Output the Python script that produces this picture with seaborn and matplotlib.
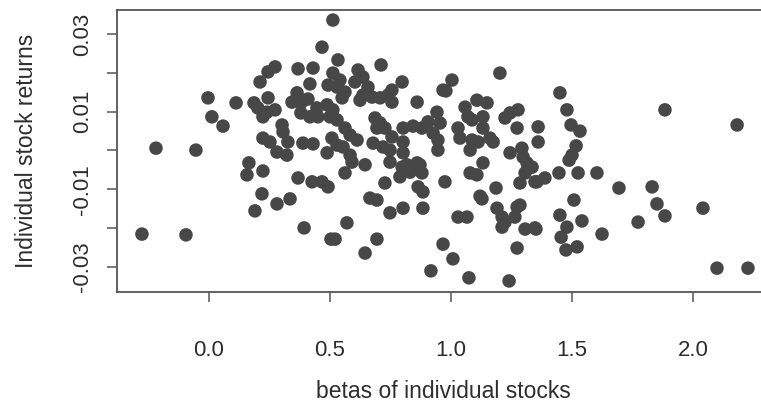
import matplotlib
matplotlib.use('Agg')
import matplotlib.pyplot as plt
import seaborn as sns
import pandas as pd

# betas of individual stocks (x) and individual stock returns (y)
betas = [
    -0.277, -0.219, -0.095, -0.054, -0.004, 0.012, 0.058, 0.112, 0.157, 0.165,
    0.190, 0.219, 0.223, 0.281, 0.335, 0.368, 0.393, 0.426, 0.467, 0.492,
    0.504, 0.211, 0.244, 0.273, 0.368, 0.430, 0.467, 0.512, 0.186, 0.202,
    0.223, 0.244, 0.273, 0.240, 0.302, 0.306, 0.223, 0.252, 0.326, 0.388,
    0.430, 0.281, 0.322, 0.488, 0.364, 0.343, 0.380, 0.409, 0.417, 0.446,
    0.380, 0.417, 0.450, 0.533, 0.711, 0.512, 0.492, 0.541, 0.562, 0.529,
    0.550, 0.616, 0.636, 0.603, 0.657, 0.636, 0.674, 0.624, 0.707, 0.740,
    0.756, 0.798, 0.756, 0.860, 0.488, 0.512, 0.500, 0.529, 0.562, 0.583,
    0.612, 0.508, 0.529, 0.686, 0.707, 0.694, 0.727, 0.756, 0.678, 0.802,
    0.843, 0.880, 0.905, 0.942, 0.926, 0.946, 0.967, 0.802, 0.719, 0.554,
    1.004, 0.979, 1.202, 1.107, 1.149, 1.058, 1.070, 1.087, 1.132, 1.132,
    1.029, 1.037, 1.087, 1.112, 1.161, 1.174, 1.079, 1.244, 1.277, 1.223,
    1.273, 1.360, 1.360, 1.450, 1.479, 0.955, 1.244, 1.293, 1.298, 1.314,
    1.132, 0.583, 0.591, 0.645, 0.562, 0.748, 0.802, 0.748, 0.946, 0.798,
    0.818, 0.860, 0.872, 0.789, 0.831, 0.880, 0.727, 0.864, 0.884, 0.975,
    0.665, 0.694, 0.748, 0.802, 0.884, 0.570, 0.521, 0.694, 0.645, 1.029,
    1.066, 0.967, 1.008, 0.917, 1.074, 1.240, 1.079, 1.107, 1.318, 1.306,
    1.285, 1.347, 1.186, 1.120, 1.128, 1.190, 1.211, 1.223, 1.211, 1.273,
    1.285, 1.264, 1.306, 1.347, 1.273, 1.496, 1.533, 1.517, 1.500, 1.488,
    1.335, 1.355, 1.388, 1.525, 1.603, 1.694, 1.831, 1.851, 1.884, 2.041,
    1.508, 1.450, 1.479, 1.455, 1.541, 1.475, 1.521, 1.624, 1.773, 1.351,
    2.099, 2.227, 1.884, 2.182, 1.446,
]
returns = [
    -0.0216, 0.0006, -0.0218, 0.0001, 0.0136, 0.0087, 0.0063, 0.0123, -0.0063, -0.0032,
    -0.0156, -0.0112, -0.0053, -0.0138, -0.0125, -0.0071, -0.0200, -0.0081, -0.0081, -0.0094,
    -0.0229, 0.0177, 0.0203, 0.0216, 0.0211, 0.0213, 0.0267, 0.0337, 0.0123, 0.0110,
    0.0087, 0.0136, 0.0105, 0.0099, 0.0066, 0.0048, 0.0032, 0.0022, 0.0022, 0.0019,
    0.0017, -0.0004, -0.0012, -0.0006, 0.0149, 0.0125, 0.0123, 0.0133, 0.0172, 0.0110,
    0.0097, 0.0087, 0.0087, 0.0234, 0.0221, 0.0200, 0.0169, 0.0182, 0.0151, 0.0164,
    0.0136, 0.0208, 0.0190, 0.0177, 0.0164, 0.0143, 0.0138, 0.0130, 0.0136, 0.0143,
    0.0156, 0.0177, 0.0125, 0.0125, 0.0118, 0.0105, 0.0087, 0.0079, 0.0058, 0.0040,
    0.0027, 0.0032, 0.0014, 0.0084, 0.0071, 0.0058, 0.0058, 0.0035, 0.0019, 0.0058,
    0.0063, 0.0058, 0.0074, 0.0099, 0.0045, 0.0027, 0.0156, 0.0022, 0.0009, 0.0009,
    0.0182, 0.0154, 0.0200, 0.0130, 0.0123, 0.0112, 0.0087, 0.0079, 0.0087, 0.0058,
    0.0058, 0.0032, 0.0027, 0.0022, 0.0032, 0.0022, 0.0001, 0.0097, 0.0105, 0.0084,
    0.0058, 0.0061, 0.0022, 0.0149, 0.0105, 0.0071, -0.0006, 0.0006, -0.0017, -0.0032,
    -0.0032, -0.0012, -0.0030, -0.0037, -0.0058, 0.0001, -0.0006, -0.0030, 0.0001, -0.0043,
    -0.0037, -0.0032, -0.0037, -0.0068, -0.0056, -0.0058, -0.0084, -0.0094, -0.0107, -0.0081,
    -0.0123, -0.0128, -0.0161, -0.0149, -0.0149, -0.0187, -0.0229, -0.0229, -0.0265, -0.0172,
    -0.0172, -0.0242, -0.0280, -0.0311, -0.0329, -0.0337, -0.0058, -0.0063, -0.0043, -0.0058,
    -0.0084, -0.0081, -0.0097, -0.0118, -0.0125, -0.0149, -0.0172, -0.0185, -0.0198, -0.0146,
    -0.0141, -0.0172, -0.0203, -0.0200, -0.0252, 0.0066, 0.0050, 0.0012, -0.0012, -0.0025,
    -0.0043, -0.0081, -0.0071, -0.0058, -0.0058, -0.0097, -0.0094, -0.0138, -0.0169, -0.0149,
    -0.0128, -0.0167, -0.0198, -0.0224, -0.0182, -0.0257, -0.0249, -0.0216, -0.0185, -0.0203,
    -0.0304, -0.0304, 0.0105, 0.0066, -0.0058,
]

x_ticks = [0.0, 0.5, 1.0, 1.5, 2.0]
x_tick_labels = ['0.0', '0.5', '1.0', '1.5', '2.0']
y_ticks = [-0.03, -0.02, -0.01, 0.0, 0.01, 0.02, 0.03]
y_tick_labels = ['-0.03', '', '-0.01', '', '0.01', '', '0.03']

sns.set_style('white')
plt.rcParams['font.family'] = ['Liberation Sans', 'DejaVu Sans']

df = pd.DataFrame({'beta': betas, 'ret': returns})

fig = plt.figure(figsize=(7.61, 4.07), dpi=100)
# right edge of the box runs past the image edge, as in the original crop
ax = fig.add_axes([117 / 761, 115 / 407, 653 / 761, 282 / 407])

sns.scatterplot(data=df, x='beta', y='ret', ax=ax, s=95, color='#474747',
                edgecolor='none', linewidth=0)

ax.set_xlim(-0.380, 2.318)
ax.set_ylim(-0.03656, 0.03630)
ax.set_xticks(x_ticks)
ax.set_xticklabels(x_tick_labels)
ax.set_yticks(y_ticks)
ax.set_yticklabels(y_tick_labels, rotation=90, va='center')

for sp in ax.spines.values():
    sp.set_color('#555555')
    sp.set_linewidth(1.3)

ax.tick_params(axis='both', direction='out', length=7.5, width=1.1, color='#555555',
               labelsize=16, labelcolor='#2e2e2e', bottom=True, left=True)
ax.tick_params(axis='x', pad=27)
ax.tick_params(axis='y', pad=10)

ax.set_xlabel('betas of individual stocks', fontsize=16.5, color='#2e2e2e', labelpad=14)
ax.set_ylabel('Individual stock returns', fontsize=16.5, color='#2e2e2e', labelpad=24)

fig.savefig('out.png', dpi=100)
plt.close(fig)
